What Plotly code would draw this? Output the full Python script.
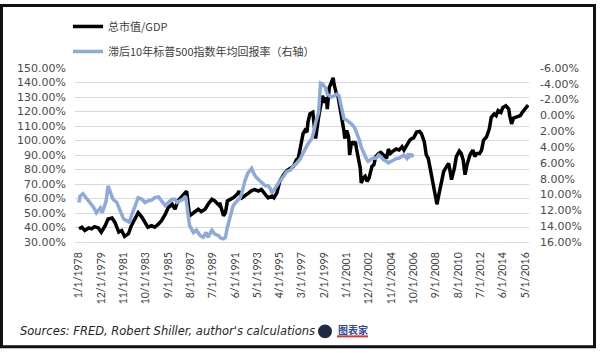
import plotly.graph_objects as go
import pandas as pd

# ---- data ----
cap_dates = ["1978-01","1978-04","1978-07","1978-11","1979-02","1979-05","1979-09","1979-12",
"1980-04","1980-07","1980-11","1981-02","1981-06","1981-09","1981-12","1982-04","1982-07","1982-11",
"1983-02","1983-06","1983-09","1983-12","1984-04","1984-07","1984-11","1985-02","1985-06","1985-09",
"1986-01","1986-04","1986-07","1986-11","1987-02","1987-04","1987-07","1987-09","1988-01","1988-04",
"1988-07","1988-11","1989-02","1989-06","1989-09","1990-01","1990-02","1990-06","1990-08","1990-10",
"1991-01","1991-04","1991-08","1991-10","1992-01","1992-04","1992-08","1992-11","1993-02","1993-06",
"1993-09","1994-01","1994-04","1994-08","1994-10","1995-01","1995-04","1995-08","1995-11","1996-03",
"1996-06","1996-09","1996-11","1997-01","1997-04","1997-06","1997-08","1997-09","1997-11","1998-02",
"1998-03","1998-05","1998-08","1998-10","1998-12","1999-02","1999-04","1999-05","1999-07","1999-09",
"1999-11","1999-12","2000-02","2000-04","2000-06","2000-08","2000-10","2000-11","2001-01","2001-03",
"2001-04","2001-06","2001-08","2001-10","2001-11","2002-01","2002-03","2002-04","2002-06","2002-08",
"2002-10","2002-12","2003-03","2003-05","2003-07","2003-10","2003-12","2004-03","2004-06","2004-08",
"2004-10","2004-12","2005-04","2005-07","2005-10","2005-12","2006-03","2006-06","2006-08","2006-10",
"2007-01","2007-04","2007-06","2007-09","2007-11","2008-01","2008-03","2008-06","2008-08","2008-10",
"2008-12","2009-03","2009-05","2009-07","2009-10","2009-11","2010-01","2010-04","2010-06","2010-09",
"2010-11","2011-01","2011-03","2011-05","2011-08","2011-11","2012-01","2012-03","2012-06","2012-08",
"2012-10","2013-01","2013-04","2013-06","2013-09","2013-11","2014-01","2014-04","2014-06","2014-09",
"2014-12","2015-01","2015-03","2015-05","2015-08","2015-12","2016-02","2016-05","2016-08"]
cap_values = [39.1,40.2,37.9,39.7,39.1,40.6,39.7,36.8,
41.3,45.8,46.5,43.5,36.8,37.9,33.8,35.7,41.3,47.0,
50.3,47.0,43.5,40.2,41.3,40.2,42.5,44.7,49.2,53.7,
56.0,52.6,58.3,61.7,63.3,65.1,48.1,49.2,51.5,52.6,
51.0,52.6,56.0,59.4,58.3,55.6,57.1,48.1,50.3,58.3,
59.4,60.5,62.8,65.1,60.5,61.7,63.9,65.5,66.2,65.1,
66.2,62.8,60.5,61.7,60.5,63.9,71.9,76.4,79.1,80.9,
82.1,86.6,87.7,94.5,104.7,107.0,105.8,112.6,118.3,119.4,
113.8,101.3,116.0,124.0,130.8,126.2,129.6,121.7,136.4,139.8,
143.2,138.7,133.0,130.8,124.0,114.9,107.0,101.3,107.0,102.4,
90.0,99.0,97.9,99.0,94.5,87.7,80.9,70.7,74.1,75.3,
71.9,74.1,82.1,83.2,88.9,91.1,91.8,90.0,87.7,94.1,
91.1,92.3,94.1,93.4,95.7,93.4,96.8,100.2,101.3,101.8,
105.8,106.3,104.7,99.0,90.0,87.7,80.9,69.6,60.5,56.0,
62.8,74.1,78.7,80.9,84.3,80.9,73.0,80.9,88.9,92.7,
91.1,86.6,76.4,83.2,90.0,93.4,88.9,91.1,91.1,93.4,
100.2,102.4,108.1,116.0,118.3,117.2,120.6,119.4,122.8,124.0,
121.7,117.2,111.5,115.4,116.0,117.2,119.4,121.7,124.4]

ret_dates = ["1978-01","1978-02","1978-05","1978-08","1978-12","1979-04","1979-07","1979-11",
"1980-01","1980-05","1980-07","1980-10","1980-12","1981-04","1981-07","1981-11","1982-02","1982-05",
"1982-07","1982-11","1983-02","1983-06","1983-09","1983-12","1984-04","1984-07","1984-11","1985-02",
"1985-06","1985-09","1986-01","1986-04","1986-06","1986-09","1986-12","1987-03","1987-06","1987-07",
"1987-11","1988-02","1988-06","1988-09","1988-12","1989-02","1989-06","1989-09","1990-01","1990-03",
"1990-06","1990-08","1990-10","1991-01","1991-04","1991-08","1991-11","1992-01","1992-04","1992-07",
"1992-09","1992-11","1993-01","1993-03","1993-06","1993-09","1994-01","1994-04","1994-06","1994-08",
"1994-09","1995-01","1995-04","1995-08","1995-11","1996-03","1996-06","1996-09","1997-01","1997-03",
"1997-06","1997-09","1998-01","1998-03","1998-05","1998-08","1998-10","1998-12","1999-03","1999-05",
"1999-07","1999-09","1999-12","2000-03","2000-05","2000-08","2000-10","2001-01","2001-04","2001-06",
"2001-09","2001-11","2002-02","2002-04","2002-07","2002-09","2002-11","2003-02","2003-04","2003-07",
"2003-10","2003-12","2004-03","2004-06","2004-08","2004-11","2005-02","2005-05","2005-07","2005-10",
"2005-12","2006-03","2006-05","2006-06","2006-08","2006-10"]
ret_values = [11.0,10.2,9.9,10.4,11.0,11.6,12.3,11.7,
12.3,10.8,8.9,10.0,10.6,11.0,11.8,13.1,13.3,13.5,
12.7,11.4,10.4,10.6,11.0,10.8,10.7,10.4,10.3,10.8,
11.4,11.0,10.6,10.6,11.0,10.8,10.6,10.2,12.9,13.9,
14.8,14.5,15.2,15.4,14.8,15.4,14.5,15.0,15.2,15.5,
15.6,15.4,14.1,12.5,11.4,10.8,10.4,9.8,8.3,7.3,
6.9,6.7,7.3,7.7,8.1,8.5,8.9,8.9,9.2,9.8,
9.6,8.9,8.3,7.7,7.1,6.9,6.4,6.1,5.5,5.0,
4.2,3.6,2.9,2.1,0.85,-0.4,-4.1,-4.0,-3.5,-2.7,
-2.5,-2.3,-2.5,-2.7,-2.5,-0.8,0.4,0.6,0.85,1.1,
1.5,2.1,3.1,4.0,5.0,5.4,5.8,5.6,5.4,5.4,
5.0,5.2,5.6,5.8,6.0,5.8,5.6,5.4,5.4,5.2,
5.0,5.4,4.8,5.2,5.0,5.2]

x_tick_labels = ["1/1/1978","12/1/1979","11/1/1981","10/1/1983","9/1/1985","8/1/1987","7/1/1989",
"6/1/1991","5/1/1993","4/1/1995","3/1/1997","2/1/1999","1/1/2001","12/1/2002","11/1/2004",
"10/1/2006","9/1/2008","8/1/2010","7/1/2012","6/1/2014","5/1/2016"]
left_tick_values = [30,40,50,60,70,80,90,100,110,120,130,140,150]
left_tick_labels = ["30.00%","40.00%","50.00%","60.00%","70.00%","80.00%","90.00%","100.00%",
"110.00%","120.00%","130.00%","140.00%","150.00%"]
right_tick_values = [-6,-4,-2,0,2,4,6,8,10,12,14,16]
right_tick_labels = ["-6.00%","-4.00%","-2.00%","0.00%","2.00%","4.00%","6.00%","8.00%",
"10.00%","12.00%","14.00%","16.00%"]

name_cap = "总市值/GDP"
name_ret = "滞后10年标普500指数年均回报率（右轴）"
source_text = "Sources: FRED, Robert Shiller, author's calculations"

x_tick_vals = pd.to_datetime(x_tick_labels, format="%m/%d/%Y")

W, H = 600, 353
L, R, T, B = 75, 71, 65, 111
pw, ph = W - L - R, H - T - B
def px_x(p):
    return (p - L) / pw
def px_y(p):
    return (H - B - p) / ph

fig = go.Figure()
fig.add_trace(go.Scatter(x=pd.to_datetime(cap_dates), y=cap_values, mode="lines", name=name_cap,
                         line=dict(color="#000000", width=3.5), legendgroup="a"))
fig.add_trace(go.Scatter(x=pd.to_datetime(ret_dates), y=ret_values, mode="lines", name=name_ret,
                         line=dict(color="#8EA9DB", width=3.5), yaxis="y2", legendgroup="b"))

tick_font = dict(family="DejaVu Sans", size=11, color="#4A4A4A")
fig.update_layout(
    width=W, height=H, margin=dict(l=L, r=R, t=T, b=B),
    paper_bgcolor="white", plot_bgcolor="white",
    showlegend=True,
    legend=dict(x=px_x(68), y=px_y(8), xanchor="left", yanchor="top",
                font=dict(family="Noto Sans CJK SC", size=11, color="#404040"),
                traceorder="grouped", tracegroupgap=6, bgcolor="rgba(0,0,0,0)"),
    xaxis=dict(type="date", range=["1977-08-28", "2016-08-28"], tickvals=x_tick_vals,
               ticktext=x_tick_labels, tickangle=-90, showgrid=False, zeroline=False,
               showline=True, linecolor="#D9D9D9", linewidth=1, ticks="",
               tickfont=dict(family="Lato", size=10.5, color="#404040"), ticklabelstandoff=5),
    yaxis=dict(range=[30, 150], tickvals=left_tick_values, ticktext=left_tick_labels,
               showgrid=True, gridcolor="#D9D9D9", gridwidth=1, zeroline=False, showline=False,
               ticks="", tickfont=tick_font, ticklabelstandoff=8),
    yaxis2=dict(range=[16, -6], overlaying="y", side="right", tickvals=right_tick_values,
                ticktext=right_tick_labels, showgrid=False, zeroline=False, showline=False,
                ticks="", tickfont=tick_font, ticklabelstandoff=10),
)

# frame around the picture
fig.add_shape(type="rect", xref="paper", yref="paper",
              x0=px_x(1.5), x1=px_x(594.5), y0=px_y(348.5), y1=px_y(1.5),
              line=dict(color="#111111", width=3), fillcolor="rgba(0,0,0,0)", layer="above")

fig.add_annotation(text="<i>" + source_text + "</i>", xref="paper", yref="paper",
                   x=px_x(18), y=px_y(333), xanchor="left", yanchor="middle", showarrow=False,
                   font=dict(family="DejaVu Sans", size=11.5, color="#262626"))
# small logo next to the source line
fig.add_shape(type="circle", xref="paper", yref="paper",
              x0=px_x(318), x1=px_x(332), y0=px_y(340), y1=px_y(326),
              fillcolor="#1F2A44", line=dict(width=0))
fig.add_annotation(text="<b>图表家</b>", xref="paper", yref="paper",
                   x=px_x(336), y=px_y(331), xanchor="left", yanchor="middle", showarrow=False,
                   font=dict(family="Noto Sans CJK SC", size=10, color="#2E4A9E"))
fig.add_shape(type="rect", xref="paper", yref="paper",
              x0=px_x(337), x1=px_x(368), y0=px_y(339), y1=px_y(337),
              fillcolor="#D9302B", line=dict(width=0))

fig.write_html("out.html")
